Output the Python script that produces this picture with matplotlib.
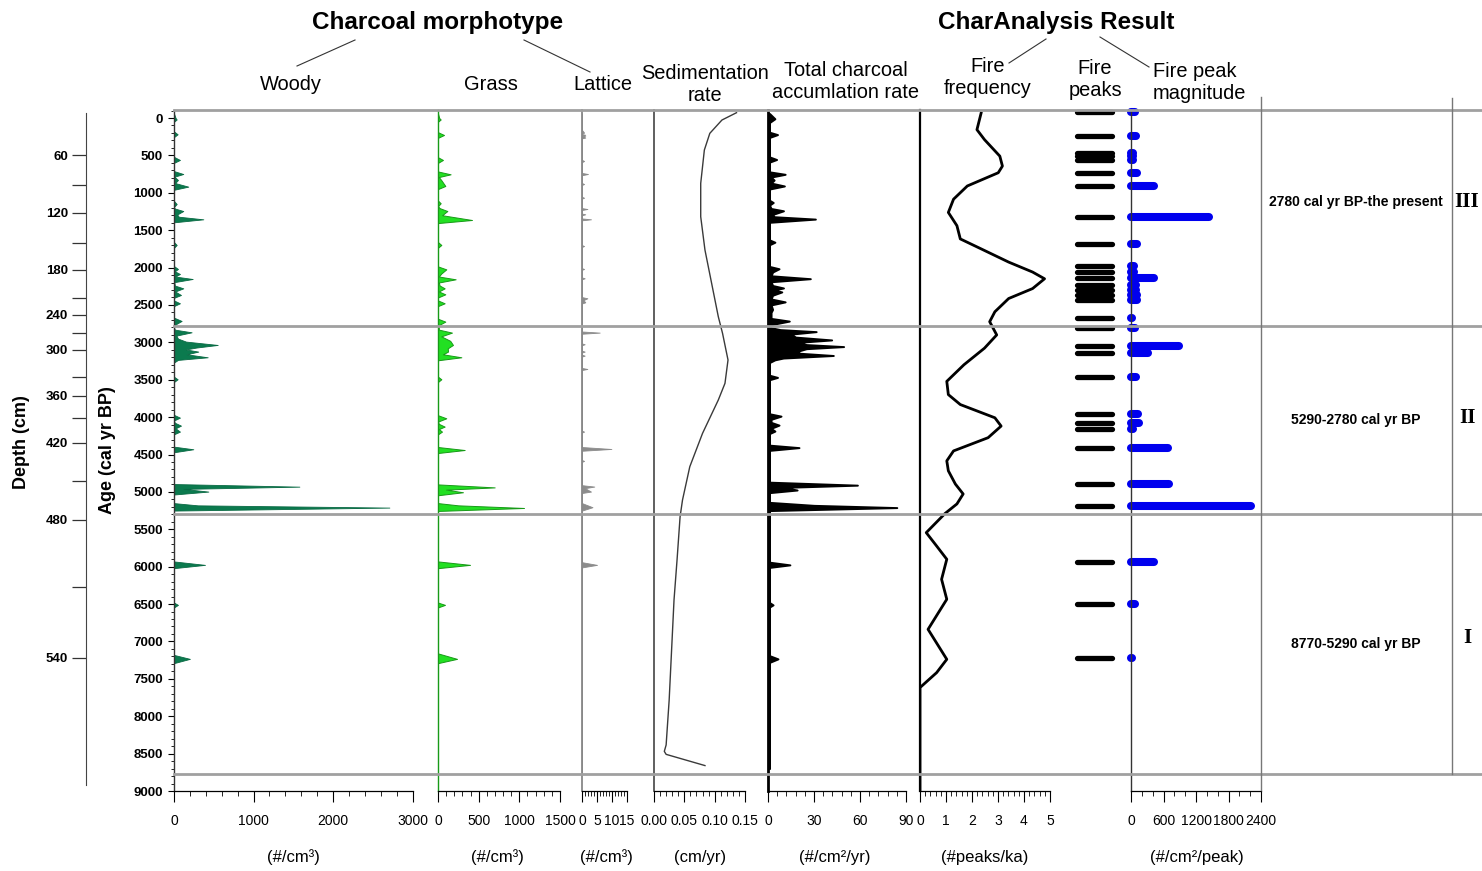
import matplotlib
matplotlib.use('Agg')
import matplotlib.pyplot as plt
from matplotlib import font_manager
from matplotlib.lines import Line2D
from matplotlib.ticker import MultipleLocator, FormatStrFormatter

# ---- data (ages in cal yr BP) ----
woody_age = [-60, 0, 20, 50, 180, 218, 255, 520, 561, 600, 710, 749, 785, 829, 870, 918, 960,
             1110, 1150, 1190, 1210, 1244, 1290, 1320, 1355, 1395, 1660, 1698, 1735, 1980, 2019,
             2050, 2086, 2120, 2153, 2195, 2240, 2278, 2320, 2367, 2405, 2440, 2478, 2515, 2670,
             2714, 2760, 2800, 2830, 2866, 2910, 2950, 2990, 3035, 3070, 3095, 3124, 3160, 3200,
             3235, 3270, 3460, 3494, 3530, 3970, 4007, 4045, 4075, 4114, 4150, 4194, 4230, 4395,
             4430, 4470, 4895, 4930, 4960, 4996, 5035, 5150, 5180, 5210, 5250, 5930, 5976, 6020,
             6480, 6511, 6545, 7180, 7233, 7290, 8770]
woody_val = [0, 20, 34, 0, 0, 46, 0, 0, 75, 0, 0, 117, 5, 50, 15, 180, 0,
             0, 34, 0, 10, 117, 40, 60, 369, 0, 0, 34, 0, 0, 50,
             10, 75, 15, 235, 5, 10, 117, 15, 88, 0, 0, 75, 0, 0,
             96, 20, 0, 10, 222, 30, 50, 150, 550, 280, 150, 306, 160, 424,
             50, 0, 0, 46, 0, 0, 75, 0, 10, 88, 20, 75, 0, 0,
             243, 0, 0, 1577, 120, 432, 0, 0, 300, 2709, 0, 0, 390, 0,
             0, 50, 0, 0, 200, 0, 0]

grass_age = [-60, 0, 20, 50, 190, 227, 265, 525, 561, 600, 715, 753, 790, 830, 909, 950, 1105,
             1140, 1180, 1205, 1244, 1300, 1364, 1405, 1660, 1698, 1735, 1985, 2024, 2080, 2120,
             2157, 2200, 2240, 2278, 2320, 2358, 2400, 2440, 2478, 2515, 2685, 2723, 2770, 2830,
             2870, 2920, 2980, 3035, 3080, 3124, 3160, 3200, 3240, 3460, 3494, 3530, 3975, 4016,
             4060, 4090, 4127, 4160, 4194, 4230, 4400, 4440, 4480, 4900, 4940, 4970, 5005, 5045,
             5150, 5180, 5215, 5255, 5930, 5976, 6020, 6480, 6511, 6545, 7160, 7233, 7290, 8770]
grass_val = [0, 15, 33, 0, 0, 74, 0, 0, 61, 0, 0, 155, 10, 40, 90, 0, 0,
             33, 0, 20, 115, 50, 418, 0, 0, 41, 0, 0, 102, 40, 10,
             217, 10, 20, 82, 10, 90, 0, 0, 82, 0, 0, 90, 10, 10,
             172, 40, 150, 184, 120, 123, 60, 287, 0, 0, 41, 0, 0, 102,
             0, 10, 82, 10, 49, 0, 0, 328, 0, 0, 697, 100, 307, 0,
             0, 250, 1058, 0, 0, 394, 0, 0, 86, 0, 0, 234, 0, 0]

lattice_age = [-60, 160, 196, 207, 215, 225, 235, 245, 255, 262, 272, 560, 575, 590, 735, 749,
               765, 870, 883, 895, 1055, 1066, 1078, 1205, 1217, 1230, 1278, 1288, 1300, 1343,
               1355, 1368, 1700, 1712, 1724, 2008, 2019, 2030, 2132, 2144, 2156, 2395, 2411,
               2435, 2465, 2480, 2855, 2870, 2885, 3015, 3026, 3038, 3112, 3124, 3136, 3166,
               3178, 3190, 3343, 3356, 3370, 4182, 4194, 4206, 4400, 4426, 4450, 4574, 4586,
               4598, 4910, 4929, 4950, 4996, 5015, 5150, 5205, 5250, 5940, 5976, 6010, 8770]
lattice_val = [0, 0, 0.7, 0, 0, 1.1, 0, 1.1, 0, 1.1, 0, 0, 0.7, 0, 0, 2,
               0, 0, 0.7, 0, 0, 0.7, 0, 0, 1.8, 0, 0, 1.1, 0, 0,
               3, 0, 0, 0.7, 0, 0, 0.7, 0, 0, 0.9, 0, 0, 1.8,
               0.5, 1.1, 0, 0, 5.9, 0, 0, 0.9, 0, 0, 0.9, 0, 0,
               0.9, 0, 0, 1.8, 0, 0, 0.7, 0, 0, 9.8, 0, 0, 0.7,
               0, 0, 4.1, 1, 3, 0, 0, 3.5, 0, 0, 5, 0, 0]

sed_age = [-71, 27, 205, 428, 874, 1320, 1765, 2211, 2657, 2880, 3236, 3548, 3771, 4217,
           4663, 5108, 5332, 5909, 6445, 7783, 8384, 8470, 8510, 8660]
sed_val = [0.136, 0.112, 0.092, 0.083, 0.077, 0.077, 0.084, 0.095, 0.106, 0.113, 0.122,
           0.117, 0.106, 0.080, 0.059, 0.047, 0.043, 0.038, 0.033, 0.025, 0.020, 0.017,
           0.020, 0.084]

char_age = [-60, 10, 60, 190, 222, 260, 520, 555, 590, 720, 753, 790, 830, 870, 909, 950, 1100,
            1130, 1165, 1210, 1241, 1290, 1320, 1352, 1395, 1630, 1661, 1695, 1985, 2016, 2060,
            2110, 2149, 2190, 2240, 2273, 2300, 2326, 2370, 2420, 2459, 2500, 2560, 2600, 2680,
            2716, 2760, 2800, 2830, 2857, 2890, 2930, 2968, 3000, 3030, 3057, 3085, 3114, 3145,
            3176, 3210, 3234, 3270, 3440, 3469, 3500, 3955, 3987, 4030, 4070, 4107, 4150, 4187,
            4220, 4375, 4408, 4445, 4870, 4910, 4940, 4975, 5010, 5140, 5180, 5210, 5250, 5940,
            5976, 6010, 6480, 6511, 6540, 7190, 7233, 7280, 8700]
char_val = [1, 4.5, 1, 1, 6.2, 1, 1, 5.6, 1, 1, 11.2, 2, 4, 2, 10.7, 1, 1,
            3.4, 1, 2, 10.1, 3, 4, 30.9, 1, 1, 4.5, 1, 1, 7.2, 3,
            2, 27.6, 2, 3, 10.1, 4, 9, 3, 2, 11.2, 2, 3, 2, 2,
            13.9, 3, 1, 8, 31.4, 15, 18, 41.5, 20, 25, 49.3, 25, 20.2, 20,
            42.6, 10, 4.5, 1, 1, 6.2, 1, 1, 8.5, 2, 2, 7.2, 2, 4.5,
            1, 1, 20.2, 1, 1, 58.3, 10, 19, 1, 1, 30, 84, 1, 1,
            14.3, 1, 1, 3.3, 1, 1, 6.5, 1, 1]

freq_age = [-65, 156, 289, 510, 643, 732, 909, 1086, 1263, 1440, 1617, 1750, 1927, 2060, 2150,
            2281, 2414, 2591, 2724, 2901, 3078, 3300, 3522, 3699, 3832, 4009, 4120, 4275, 4452,
            4585, 4718, 4895, 5028, 5161, 5290, 5545, 5724, 5901, 6169, 6436, 6838, 7239, 7417,
            7617, 9000]
freq_val = [2.35, 2.19, 2.48, 3.07, 3.17, 3.01, 1.82, 1.29, 1.09, 1.42, 1.55, 2.35, 3.41, 4.33,
            4.79, 4.33, 3.41, 2.88, 2.68, 2.95, 2.48, 1.69, 1.03, 1.09, 1.55, 2.88, 3.12, 2.62,
            1.29, 1.03, 1.09, 1.36, 1.66, 1.42, 0.96, 0.24, 0.64, 1.03, 0.83, 1.03, 0.31, 1.03,
            0.64, 0.0, 0.0]

peak_age = [-74, 235, 467, 508, 555, 741, 909, 1329, 1684, 1979, 2059, 2140, 2237, 2304, 2362,
            2437, 2680, 2814, 3044, 3145, 3469, 3964, 4075, 4163, 4416, 4894, 5195, 5937, 6499,
            7221]
peak_mag = [74, 90, 30, 30, 40, 110, 425, 1440, 110, 55, 55, 425, 90, 90, 110,
            110, 20, 74, 886, 314, 90, 130, 150, 40, 683, 700, 2215, 425, 74, 20]

zone_bounds = [2780, 5290, 8770]
zone_text = ['2780 cal yr BP-the present', '5290-2780 cal yr BP', '8770-5290 cal yr BP']
zone_text_age = [1120, 4040, 7030]
zone_roman = ['III', 'II', 'I']
zone_roman_age = [1123, 4011, 6953]

depth_ticks = [60, 90, 120, 150, 180, 210, 240, 270, 300, 330, 360, 390, 420, 450, 480, 510, 540]
depth_tick_age = [495, 896, 1270, 1671, 2032, 2406, 2634, 2874, 3102, 3463, 3717, 4011, 4345,
                  4853, 5374, 6270, 7219]
depth_labels = [str(d) if d % 60 == 0 else '' for d in depth_ticks]
age_ticks = list(range(0, 9001, 500))

# ---- layout (pixels of the 1482 x 871 canvas) ----
W, H = 1482, 871
Y_TOP, Y_BOT = 110, 791
AGE_TOP = -107

names = {f.name for f in font_manager.fontManager.ttflist}
NARROW = 'Liberation Sans Narrow' if 'Liberation Sans Narrow' in names else 'Liberation Sans'
HEAD_FS = 17.5 if NARROW != 'Liberation Sans' else 14.4
TITLE_FS = 21 if NARROW != 'Liberation Sans' else 17.5

plt.rcParams['font.family'] = ['Liberation Sans', 'DejaVu Sans']

fig = plt.figure(figsize=(W / 100, H / 100), dpi=100)
fig.patch.set_facecolor('white')


def fx(px):
    return px / W


def fy(py):
    return 1 - py / H


def panel(x0, x1, xmax, major, minor, spine_col='black', spine_lw=1.0):
    ax = fig.add_axes([fx(x0), fy(Y_BOT), (x1 - x0) / W, (Y_BOT - Y_TOP) / H])
    ax.set_ylim(9000, AGE_TOP)
    ax.set_xlim(0, xmax)
    ax.patch.set_alpha(0)
    ax.spines['top'].set_visible(False)
    ax.spines['right'].set_visible(False)
    ax.spines['left'].set_color(spine_col)
    ax.spines['left'].set_linewidth(spine_lw)
    ax.spines['bottom'].set_linewidth(0.9)
    ax.set_yticks([])
    ax.xaxis.set_major_locator(MultipleLocator(major))
    ax.xaxis.set_minor_locator(MultipleLocator(minor))
    ax.tick_params(axis='x', which='major', length=8, width=0.8, labelsize=10, pad=8.5)
    ax.tick_params(axis='x', which='minor', length=3.5, width=0.6)
    return ax


# woody + age axis
ax_w = panel(174, 412.5, 3000, 1000, 200, '#333333', 1.0)
ax_w.fill_betweenx(woody_age, 0, woody_val, facecolor='#0b7a4e', edgecolor='#0a6a44', lw=0.6)
ax_w.set_yticks(age_ticks, [str(a) for a in age_ticks], fontweight='bold', fontsize=9.5)
ax_w.yaxis.set_minor_locator(MultipleLocator(100))
ax_w.tick_params(axis='y', which='major', length=4, width=0.8, pad=4)
ax_w.tick_params(axis='y', which='minor', length=2.5, width=0.6)

ax_g = panel(438, 560, 1500, 500, 100, '#189a18', 1.0)
ax_g.fill_betweenx(grass_age, 0, grass_val, facecolor='#22e022', edgecolor='#189a18', lw=0.7)

ax_l = panel(582, 627, 15, 5, 1, '#888888', 1.3)
ax_l.fill_betweenx(lattice_age, 0, lattice_val, facecolor='#8c8c8c', edgecolor='#8c8c8c', lw=0.6)

ax_s = panel(654, 745, 0.15, 0.05, 0.01, '#444444', 1.2)
ax_s.plot(sed_val, sed_age, color='#3a3a3a', lw=1.0)
ax_s.xaxis.set_major_formatter(FormatStrFormatter('%.2f'))

ax_c = panel(768, 906, 90, 30, 6, 'black', 2.0)
ax_c.fill_betweenx(char_age, 0, char_val, facecolor='black', edgecolor='black', lw=1.4)

ax_f = panel(920, 1050, 5, 1, 0.2, 'black', 1.6)
ax_f.plot(freq_val, freq_age, color='black', lw=2.0)

ax_p = fig.add_axes([fx(1077), fy(Y_BOT), 35 / W, (Y_BOT - Y_TOP) / H])
ax_p.set_ylim(9000, AGE_TOP)
ax_p.set_xlim(0, 1)
ax_p.axis('off')
ax_p.hlines(peak_age, 0, 1, color='black', lw=3.8, capstyle='round', clip_on=False)

ax_m = panel(1131, 1261, 2400, 600, 200, '#333333', 1.0)
ax_m.hlines(peak_age, 0, peak_mag, color='#0000ee', lw=5.8, capstyle='round', clip_on=False)

# depth axis
ax_d = fig.add_axes([fx(86), fy(Y_BOT), 0.0005, (Y_BOT - Y_TOP) / H])
ax_d.set_ylim(9000, AGE_TOP)
ax_d.patch.set_alpha(0)
for s in ['top', 'right', 'bottom']:
    ax_d.spines[s].set_visible(False)
ax_d.spines['left'].set_bounds(-67, 8917)
ax_d.spines['left'].set_color('#444444')
ax_d.set_xticks([])
ax_d.set_yticks(depth_tick_age, depth_labels, fontweight='bold', fontsize=9.5)
ax_d.tick_params(axis='y', length=10, width=0.9, pad=3, color='#333333')

# zone lines and labels
ax_o = fig.add_axes([fx(174), fy(Y_BOT), (W - 174) / W, (Y_BOT - Y_TOP) / H])
ax_o.set_ylim(9000, AGE_TOP)
ax_o.set_xlim(174, W)
ax_o.axis('off')
ax_o.axhline(AGE_TOP, color='#a0a0a0', lw=2, clip_on=False)
for b in zone_bounds:
    ax_o.axhline(b, color='#a0a0a0', lw=2, clip_on=False)
ax_o.plot([1261, 1261], [-281, 8990], color='#777777', lw=1, clip_on=False)
ax_o.plot([1452, 1452], [-268, 8770], color='#777777', lw=1, clip_on=False)
for t, a in zip(zone_text, zone_text_age):
    ax_o.text(1356, a, t, ha='center', va='center', fontsize=10, fontweight='bold')
for t, a in zip(zone_roman, zone_roman_age):
    ax_o.text(1467, a, t, ha='center', va='center', fontsize=15, fontweight='bold',
              family='Liberation Serif')

# headers
fig.text(fx(438), fy(22), 'Charcoal morphotype', ha='center', va='center',
         fontsize=TITLE_FS, fontweight='bold', family=NARROW)
fig.text(fx(1056), fy(22), 'CharAnalysis Result', ha='center', va='center',
         fontsize=TITLE_FS, fontweight='bold', family=NARROW)
for (x0, y0), (x1, y1) in [((355, 40), (297, 66)), ((524, 40), (590, 72)),
                           ((1046, 39), (1009, 63)), ((1100, 37), (1149, 67))]:
    fig.add_artist(Line2D([fx(x0), fx(x1)], [fy(y0), fy(y1)], color='#333333', lw=0.8))

heads = [(291, 84, 'Woody', 'center'), (491, 84, 'Grass', 'center'),
         (603, 84, 'Lattice', 'center'), (705, 84.5, 'Sedimentation\nrate', 'center'),
         (846, 82, 'Total charcoal\naccumlation rate', 'center'),
         (988, 77, 'Fire\nfrequency', 'center'), (1095, 79.5, 'Fire\npeaks', 'center'),
         (1153, 82.5, 'Fire peak\nmagnitude', 'left')]
for x, y, t, ha in heads:
    fig.text(fx(x), fy(y), t, ha=ha, va='center', fontsize=HEAD_FS, family=NARROW,
             linespacing=1.2, multialignment='center' if ha == 'center' else 'left')

units = [(293, '(#/cm³)'), (497, '(#/cm³)'), (606, '(#/cm³)'), (700, '(cm/yr)'),
         (835, '(#/cm²/yr)'), (985, '(#peaks/ka)'), (1197, '(#/cm²/peak)')]
for x, t in units:
    fig.text(fx(x), fy(857), t, ha='center', va='center', fontsize=12)

fig.text(fx(22), fy(442), 'Depth (cm)', rotation=90, ha='center', va='center',
         fontsize=13, fontweight='bold')
fig.text(fx(108), fy(450), 'Age (cal yr BP)', rotation=90, ha='center', va='center',
         fontsize=13, fontweight='bold')

fig.savefig('out.png', dpi=100)
